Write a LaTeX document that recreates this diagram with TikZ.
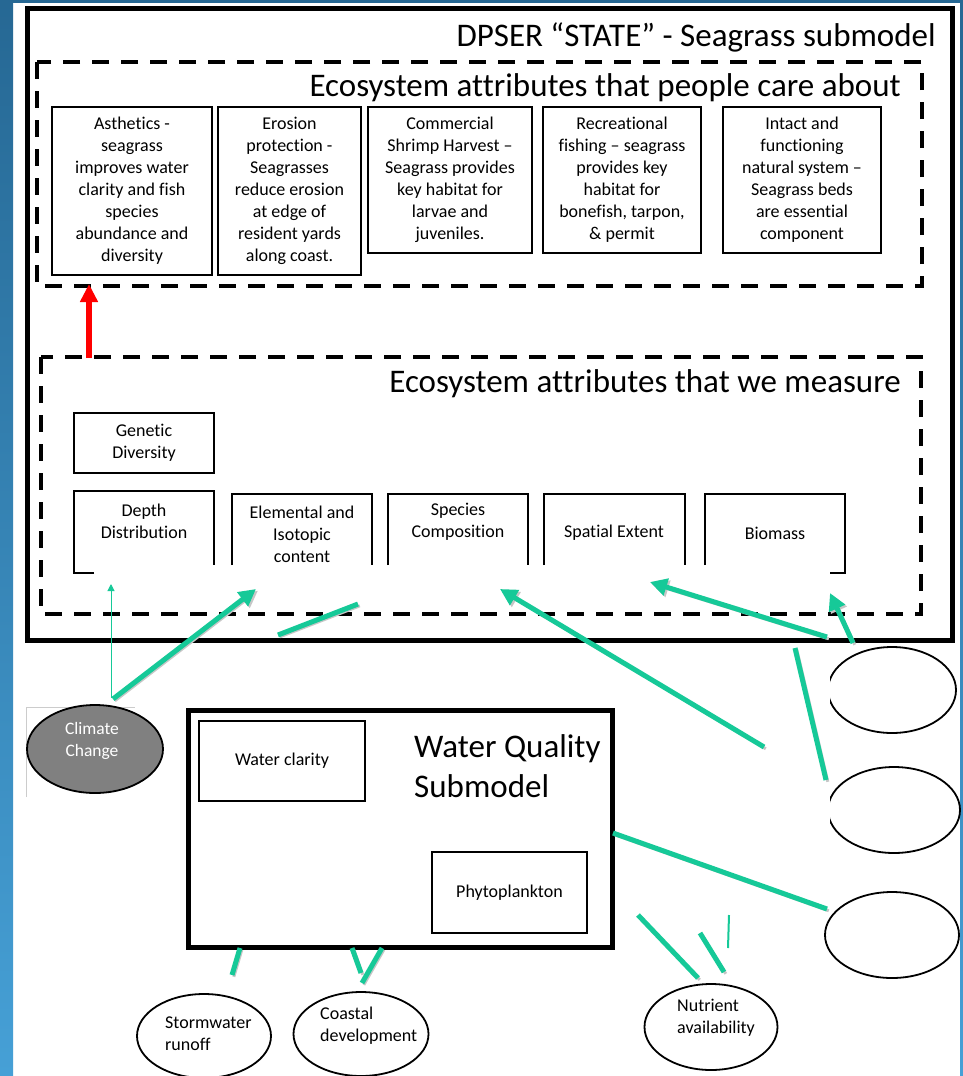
\documentclass[tikz,border=0pt]{standalone}
\usepackage{fontspec}
\setmainfont[Ligatures={NoCommon}]{Carlito}
\usetikzlibrary{arrows.meta,shapes.geometric}
\definecolor{tealc}{RGB}{22,201,152}
\definecolor{bgtop}{RGB}{38,104,148}
\definecolor{bgbot}{RGB}{70,160,214}
\definecolor{ccgray}{RGB}{128,128,128}
\tikzset{
 frame/.style={draw=black,line width=5pt},
 dashbox/.style={draw=black,line width=4pt,dash pattern=on 17pt off 12pt},
 carebox/.style={draw=black,line width=1.8pt,align=center,inner sep=2pt,font=\fontsize{18}{22}\selectfont},
 mtext/.style={align=center,inner sep=0pt,font=\fontsize{18}{22}\selectfont},
 mbox/.style={draw=black,line width=1.8pt,align=center,inner sep=0pt,font=\fontsize{18}{22}\selectfont},
 mside/.style={draw=black,line width=1.8pt},
 oval/.style={ellipse,draw=black,line width=1.8pt,inner sep=0pt},
 otext/.style={align=left,inner sep=0pt,anchor=west,font=\fontsize{18}{22}\selectfont},
 tline/.style={draw=tealc,line width=5pt,preaction={draw=gray!45,line width=3pt,transform canvas={shift={(1.8pt,-1.8pt)}}}},
 tarrow/.style={tline,-{Triangle[length=17pt,width=17pt]}},
 heading/.style={anchor=east,inner sep=0pt,font=\fontsize{33}{38}\selectfont},
}
\begin{document}
\begin{tikzpicture}[x=1pt,y=-1pt]
\useasboundingbox (0,0) rectangle (963,1076);
% background
\fill[white] (0,0) rectangle (963,1076);
\shade[top color=bgtop,bottom color=bgbot] (0,0) rectangle (13,1076);
\shade[top color=bgtop,bottom color=bgbot] (960,0) rectangle (963,1076);
\fill[bgtop] (0,0) rectangle (963,3);

% outer frame
\draw[frame] (27.5,8.5) rectangle (952.5,640);
\node[heading] (title) at (936,37) {DPSER “STATE” - Seagrass submodel};

% care-about dashed box
\draw[dashbox] (37,62) rectangle (922,286);
\node[heading] (careH) at (901,88) {Ecosystem attributes that people care about};
\node[carebox,minimum width=160pt,minimum height=168pt] (c1) at (132,191) {Asthetics -\\seagrass\\improves water\\clarity and fish\\species\\abundance and\\diversity};
\node[carebox,minimum width=143pt,minimum height=168pt] (c2) at (289.5,191) {Erosion\\protection -\\Seagrasses\\reduce erosion\\at edge of\\resident  yards\\along coast.};
\node[carebox,minimum width=164pt,minimum height=146pt] (c3) at (450,180) {Commercial\\Shrimp Harvest –\\Seagrass provides\\key habitat for\\larvae and\\juveniles.};
\node[carebox,minimum width=158pt,minimum height=146pt] (c4) at (622,180) {Recreational\\fishing – seagrass\\provides key\\habitat for\\bonefish, tarpon,\\\& permit};
\node[carebox,minimum width=158pt,minimum height=146pt] (c5) at (802,180) {Intact and\\functioning\\natural system –\\Seagrass beds\\are essential\\component};

% measure dashed box
\draw[dashbox] (41,357) rectangle (921,614);
\node[heading] (measH) at (901,384) {Ecosystem attributes that we measure};
\coordinate (rA) at (89,358);
\coordinate (rB) at (89,284);
\draw[red,line width=6.5pt,-{Triangle[length=18pt,width=17pt]}] (rA) -- (rB);

\node[mbox,minimum width=140pt,minimum height=60pt] (gen) at (144,443) {Genetic\\Diversity};
% open-bottom boxes
\draw[mside] (94,573) -- (74,573) -- (74,491) -- (214,491) -- (214,565);
\node[mtext] (depth) at (144,521) {Depth\\Distribution};
\draw[mside] (232,565) -- (232,494) -- (372,494) -- (372,565);
\node[mtext] (elem) at (302,534) {Elemental and\\Isotopic\\content};
\draw[mside] (388,565) -- (388,494) -- (528,494) -- (528,565);
\node[mtext] (spec) at (458,522) {Species\\Composition};
\draw[mside] (544,565) -- (544,494) -- (685,494) -- (685,565);
\node[mtext] (spat) at (614,533) {Spatial Extent};
\draw[mside] (705,565) -- (705,494) -- (845,494) -- (845,573) -- (830,573);
\node[mtext] (bio) at (775,533) {Biomass};

% climate change
\draw[gray!40,line width=0.6pt] (26,797) -- (26,707) -- (135,707);
\node[oval,fill=ccgray,minimum width=136pt,minimum height=88pt] (cc) at (95,749) {};
\node[mtext,text=white,font=\fontsize{17.5}{22}\selectfont] (ccT) at (92,741) {Climate\\Change};

% water quality submodel
\draw[frame] (188,710) rectangle (612,947);
\node[anchor=west,align=left,inner sep=0pt,font=\fontsize{33}{40}\selectfont] (wqT) at (414,766) {Water Quality\\Submodel};
\node[mbox,minimum width=166pt,minimum height=80pt] (wc) at (282,761) {Water clarity};
\node[mbox,minimum width=155pt,minimum height=81pt] (phy) at (509.5,892.5) {Phytoplankton};

% right ellipses
\begin{scope}
\clip (830,600) rectangle (963,880);
\node[oval,minimum width=128pt,minimum height=86pt] (e1) at (892,690) {};
\node[oval,minimum width=132pt,minimum height=86pt] (e2) at (894,810) {};
\end{scope}
\node[oval,minimum width=134pt,minimum height=86pt] (e3) at (892,935) {};

% bottom ellipses
\node[oval,minimum width=134pt,minimum height=84pt] (storm) at (204,1036) {};
\node[otext] (stormT) at (165,1034) {Stormwater\\runoff};
\node[oval,minimum width=135pt,minimum height=84pt] (coast) at (361,1034) {};
\node[otext] (coastT) at (320,1026) {Coastal\\development};
\node[oval,minimum width=133pt,minimum height=86pt] (nutr) at (711,1027) {};
\node[otext] (nutrT) at (677,1018) {Nutrient\\availability};

% teal connectors (fragments)
\coordinate (a1s) at (111,698); \coordinate (a1e) at (111,584);
\draw[tealc,line width=1pt,-{Triangle[length=7pt,width=7pt]}] (a1s) -- (a1e);
\coordinate (a2s) at (113,699); \coordinate (a2e) at (256,589);
\draw[tarrow] (a2s) -- (a2e);
\coordinate (a3s) at (278,635); \coordinate (a3e) at (358,604);
\draw[tline] (a3s) -- (a3e);
\coordinate (a4s) at (764,747); \coordinate (a4e) at (500,589);
\draw[tarrow] (a4s) -- (a4e);
\coordinate (a5s) at (827,637); \coordinate (a5e) at (650,582);
\draw[tarrow] (a5s) -- (a5e);
\coordinate (a6s) at (853,643); \coordinate (a6e) at (830,593);
\draw[tarrow] (a6s) -- (a6e);
\coordinate (a7s) at (795,648); \coordinate (a7e) at (826,780);
\draw[tline] (a7s) -- (a7e);
\coordinate (a8s) at (613,833); \coordinate (a8e) at (827,909);
\draw[tline] (a8s) -- (a8e);
\coordinate (a9s) at (638,915); \coordinate (a9e) at (698,978);
\draw[tline] (a9s) -- (a9e);
\coordinate (a10s) at (700,933); \coordinate (a10e) at (724,972);
\draw[tline] (a10s) -- (a10e);
\coordinate (a11s) at (729,915); \coordinate (a11e) at (728,948);
\draw[tealc,line width=2pt] (a11s) -- (a11e);
\coordinate (a12s) at (240,948); \coordinate (a12e) at (232,975);
\draw[tline] (a12s) -- (a12e);
\coordinate (a13s) at (352,948); \coordinate (a13e) at (361,973);
\draw[tline] (a13s) -- (a13e);
\coordinate (a14s) at (382,948); \coordinate (a14e) at (362,983);
\draw[tline] (a14s) -- (a14e);
\end{tikzpicture}
\end{document}
